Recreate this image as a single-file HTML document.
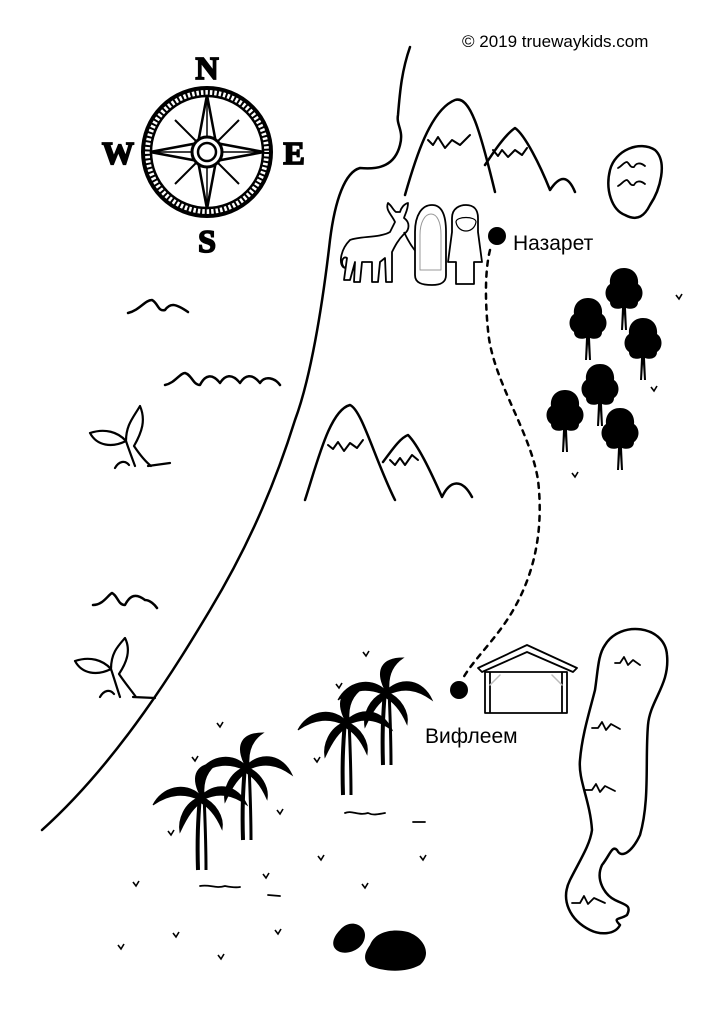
<!DOCTYPE html>
<html><head><meta charset="utf-8"><style>
html,body{margin:0;padding:0;background:#fff}
svg{display:block}
</style></head><body>
<svg width="724" height="1024" viewBox="0 0 724 1024" xmlns="http://www.w3.org/2000/svg">
<defs>
<g id="tree">
 <path d="M0,-32 C-10,-32 -15,-24 -14,-16 C-20,-12 -20,-2 -14,2 C-14,8 -8,10 -2,8 L-3,30 L-1,30 L0,14 L1,30 L3,30 L2,8 C8,10 14,8 14,2 C20,-2 20,-12 14,-16 C15,-24 10,-32 0,-32Z" fill="#000"/>
</g>
<g id="palm" fill="#000" stroke="#000">
 <path d="M0,0 C-2,25 -3,45 -2,75" fill="none" stroke-width="4"/>
 <path d="M4,0 C5,25 6,45 6,75" fill="none" stroke-width="3"/>
 <path d="M0,0 C-15,-14 -38,-8 -47,10 C-30,-2 -15,-2 0,5Z"/>
 <path d="M0,0 C-10,-20 -3,-32 18,-32 C6,-24 3,-12 4,0Z"/>
 <path d="M2,0 C17,-14 38,-10 47,10 C32,-1 18,-3 2,5Z"/>
 <path d="M0,2 C-16,8 -22,25 -20,37 C-12,20 -6,12 2,7Z"/>
 <path d="M2,2 C16,8 24,22 22,34 C15,18 8,12 0,7Z"/>
</g>
<path id="chk" d="M0,0 L3,4 L6,-1" fill="none" stroke="#000" stroke-width="1.6"/>
</defs>

<text x="462" y="47" font-family="Liberation Sans, sans-serif" font-size="17" fill="#000">© 2019 truewaykids.com</text>

<!-- compass -->
<g transform="translate(207,152)" stroke="#000" fill="none">
 <circle r="64" stroke-width="4"/>
 <circle r="56" stroke-width="2.5"/>
 <circle r="60" stroke-width="7" stroke-dasharray="2 2.5"/>
 <path d="M0,-57 L9,-9 L57,0 L9,9 L0,57 L-9,9 L-57,0 L-9,-9Z" stroke-width="2.5"/>
 <path d="M0,-57 L0,57 M-57,0 L57,0" stroke-width="1.5"/>
 <path d="M-32,-32 L32,32 M32,-32 L-32,32" stroke-width="2"/>
 <circle r="15" fill="#fff" stroke-width="3"/>
 <circle r="9" stroke-width="2.5"/>
</g>
<g font-family="Liberation Serif, serif" font-weight="bold" font-size="32" text-anchor="middle" fill="#000" stroke="#000" stroke-width="1.8">
 <text x="207" y="79">N</text>
 <text x="207" y="252">S</text>
 <text x="118" y="164">W</text>
 <text x="294" y="164">E</text>
</g>

<g fill="none" stroke="#000" stroke-width="2.5" stroke-linecap="round" stroke-linejoin="round">
<!-- coast -->
<path d="M410,47 C402,70 400,90 398,115 C396,125 404,130 400,145 C395,165 380,170 360,168 C345,172 335,200 330,240 C322,310 310,380 295,420 C270,500 240,560 210,610 C180,660 120,760 42,830"/>
<!-- mountains top -->
<path d="M405,195 C415,160 430,110 455,100 C470,95 480,130 495,192"/>
<path d="M485,165 C495,150 505,135 515,128 C525,135 540,165 550,190 C560,175 568,175 575,192"/>
<path d="M428,140 L433,145 L438,137 L445,148 L452,140 L460,145 L470,135" stroke-width="2"/>
<path d="M493,150 L498,156 L502,150 L508,157 L515,150 L522,155 L527,148" stroke-width="2"/>
<!-- mountains middle -->
<path d="M305,500 C318,460 330,410 350,405 C362,410 375,460 395,500"/>
<path d="M383,462 C392,450 400,438 408,435 C418,445 430,470 442,497 C450,480 462,478 472,497"/>
<path d="M328,445 L333,449 L338,442 L344,451 L350,443 L357,448 L363,440" stroke-width="2"/>
<path d="M390,460 L395,465 L400,458 L405,465 L412,455 L418,460" stroke-width="2"/>
<!-- waves -->
<path d="M128,313 C140,310 145,300 152,300 C158,303 158,312 165,310 C170,303 175,303 188,312"/>
<path d="M165,385 C175,383 180,373 185,373 C192,375 193,385 200,385 C205,375 212,373 220,383 C225,375 232,373 240,383 C245,375 252,373 260,383 C265,375 275,378 280,385"/>
<path d="M93,605 C103,605 108,595 112,593 C118,596 118,605 125,605 C130,595 136,593 145,600 C150,600 155,605 157,608"/>
<!-- whale tails -->
<path d="M90,433 C105,428 118,432 126,441 C126,425 133,418 140,406 C146,420 142,432 134,446 C140,455 146,462 151,466 M90,433 C97,446 112,448 126,441 M126,441 C129,450 132,458 135,466 M115,468 C119,461 125,460 129,465 M148,466 L170,463" stroke-width="2.2"/>
<path d="M75,661 C90,656 103,660 111,669 C111,653 118,646 125,638 C131,650 127,662 119,674 C125,683 131,690 136,697 M75,661 C82,674 97,676 111,669 M111,669 C114,678 117,688 120,697 M100,697 C104,690 110,689 114,694 M133,697 L155,698" stroke-width="2.2"/>
<!-- lake top right -->
<path d="M625,215 C612,210 605,190 610,170 C615,150 640,140 655,150 C668,162 660,190 650,205 C645,215 638,222 625,215Z"/>
<path d="M618,168 C622,166 624,162 627,162 C630,164 630,168 634,167 C636,163 640,162 645,166" stroke-width="1.8"/>
<path d="M618,186 C622,184 624,180 627,180 C630,182 630,186 634,185 C636,181 640,180 645,184" stroke-width="1.8"/>
<!-- long lake -->
<path d="M605,645 C620,620 665,625 667,655 C670,685 650,700 648,725 C645,760 650,800 640,835 C633,850 622,860 617,850 C612,845 610,855 602,865 C595,880 605,895 615,900 C625,905 632,905 627,915 C620,920 612,917 620,925 C615,935 600,935 590,930 C570,920 560,900 570,880 C580,860 590,845 592,830 C590,800 578,780 580,760 C582,735 590,710 595,690 C598,670 598,655 605,645Z"/>
<path d="M615,663 L620,663 L624,657 L628,665 L633,660 L640,665" stroke-width="1.8"/>
<path d="M592,728 L598,728 L602,722 L606,730 L611,724 L620,729" stroke-width="1.8"/>
<path d="M585,790 L592,790 L596,784 L600,792 L605,786 L615,791" stroke-width="1.8"/>
<path d="M572,903 L580,903 L584,896 L588,904 L594,898 L605,903" stroke-width="1.8"/>
<!-- small dashes -->
<path d="M345,813 C352,810 358,816 368,813 C372,815 375,815 385,813" stroke-width="1.8"/>
<path d="M200,886 C210,884 215,889 225,886 C230,887 235,888 240,887" stroke-width="1.8"/>
<path d="M413,822 L425,822 M268,895 L280,896" stroke-width="1.8"/>
<!-- stable -->
<path d="M478,668 L527,645 L577,668 L573,672 L527,652 L482,672Z" stroke-width="1.8"/>
<path d="M485,672 L485,713 M490,672 L490,713 M562,672 L562,713 M567,672 L567,713 M485,713 L567,713 M485,672 L567,672" stroke-width="1.8"/>
<path d="M490,685 L500,675 M562,685 L552,675" stroke="#bbb" stroke-width="1.5"/>
<!-- dotted route -->
<path d="M490,250 C485,270 485,300 488,330 C492,380 530,430 538,480 C545,540 530,590 500,630 C485,650 470,665 462,680" stroke-width="2.5" stroke-dasharray="5 6"/>
</g>

<!-- donkey, mary, joseph -->
<g fill="#fff" stroke="#000" stroke-width="1.8" stroke-linejoin="round">
 <path d="M350,240 C360,236 380,238 390,232 L395,222 C392,215 385,210 388,203 C392,206 393,210 396,212 L400,212 C401,208 404,204 408,203 C408,210 405,214 404,218 C410,222 410,230 404,234 C398,240 395,246 392,252 L392,282 L386,282 L385,258 L380,262 L378,282 L372,282 L372,262 L362,262 L360,282 L354,282 L355,262 L350,280 L344,280 L347,258 C342,255 340,265 345,268 C338,266 340,250 350,240Z"/>
 <path d="M404,232 C410,245 418,258 430,262" fill="none"/>
 <path d="M415,232 C415,215 422,205 432,205 C442,205 446,215 446,232 L446,275 C446,283 440,285 432,285 C422,285 415,283 415,275Z"/>
 <path d="M420,235 C420,222 425,214 431,214 C437,214 441,222 441,235 L441,270 L420,270Z" stroke="#999" stroke-width="1"/>
 <path d="M452,218 C452,208 460,205 466,205 C474,205 478,210 478,218 L478,232 L482,262 L474,262 L474,284 L456,284 L456,262 L448,262 L452,232Z"/>
 <path d="M456,222 C456,216 476,216 476,222 C474,234 458,234 456,222Z" stroke-width="1.2"/>
</g>

<circle cx="497" cy="236" r="9" fill="#000"/>
<circle cx="459" cy="690" r="9" fill="#000"/>
<text x="513" y="250" font-family="Liberation Sans, sans-serif" font-size="21" fill="#000">Назарет</text>
<text x="425" y="743" font-family="Liberation Sans, sans-serif" font-size="21" fill="#000">Вифлеем</text>

<!-- forest -->
<use href="#tree" x="624" y="300"/>
<use href="#tree" x="588" y="330"/>
<use href="#tree" x="643" y="350"/>
<use href="#tree" x="600" y="396"/>
<use href="#tree" x="565" y="422"/>
<use href="#tree" x="620" y="440"/>

<!-- palms -->
<use href="#palm" x="385" y="690"/>
<use href="#palm" x="345" y="720"/>
<use href="#palm" x="245" y="765"/>
<use href="#palm" x="200" y="795"/>

<!-- rocks -->
<path d="M340,930 C350,918 365,925 365,935 C365,948 350,955 340,952 C330,948 332,938 340,930Z" fill="#000"/>
<path d="M370,945 C375,932 392,928 408,932 C425,938 432,955 420,965 C405,973 385,972 370,966 C362,960 365,952 370,945Z" fill="#000"/>

<!-- checks -->
<g>
<use href="#chk" x="363" y="652"/><use href="#chk" x="336" y="684"/>
<use href="#chk" x="217" y="723"/><use href="#chk" x="192" y="757"/>
<use href="#chk" x="314" y="758"/><use href="#chk" x="168" y="831"/>
<use href="#chk" x="277" y="810"/><use href="#chk" x="318" y="856"/>
<use href="#chk" x="420" y="856"/><use href="#chk" x="263" y="874"/>
<use href="#chk" x="362" y="884"/><use href="#chk" x="133" y="882"/>
<use href="#chk" x="173" y="933"/><use href="#chk" x="275" y="930"/>
<use href="#chk" x="118" y="945"/><use href="#chk" x="218" y="955"/>
<use href="#chk" x="676" y="295"/><use href="#chk" x="651" y="387"/>
<use href="#chk" x="572" y="473"/>
</g>
</svg>
</body></html>
